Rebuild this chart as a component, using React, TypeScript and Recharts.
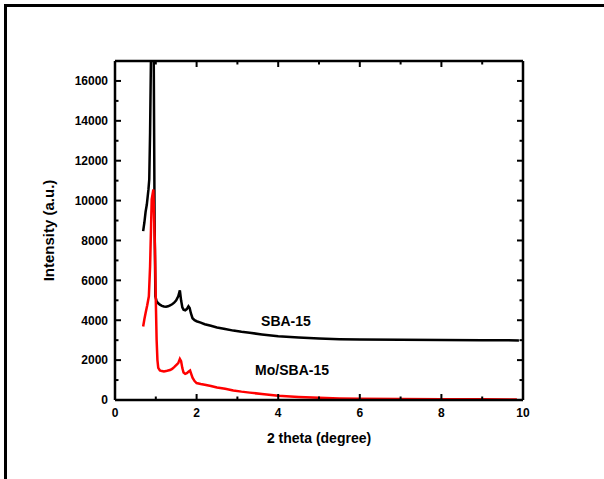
import React from 'react';
import { LineChart, Line, XAxis, YAxis, ReferenceDot } from 'recharts';

// SBA-15 (black)
const sbaX = [0.69, 0.72, 0.75, 0.78, 0.82, 0.84, 0.86, 0.88, 0.91, 0.93, 0.95, 0.97, 0.99, 1.02, 1.06, 1.1, 1.15, 1.2, 1.25, 1.3, 1.35, 1.4, 1.45, 1.5, 1.55, 1.59, 1.62, 1.65, 1.68, 1.72, 1.76, 1.8, 1.83, 1.86, 1.9, 1.95, 2.0, 2.1, 2.2, 2.35, 2.5, 2.7, 2.9, 3.1, 3.3, 3.6, 4.0, 4.5, 5.0, 5.5, 6.0, 7.0, 8.0, 9.0, 9.9];
const sbaY = [8470, 8900, 9440, 9800, 10560, 11070, 13430, 16950, 21000, 23500, 17000, 9000, 5200, 4950, 4850, 4780, 4720, 4690, 4680, 4700, 4750, 4800, 4880, 5000, 5200, 5500, 5000, 4650, 4530, 4500, 4560, 4700, 4610, 4350, 4100, 4000, 3950, 3880, 3800, 3720, 3640, 3560, 3480, 3420, 3370, 3290, 3200, 3130, 3080, 3050, 3030, 3020, 3010, 3000, 2990];

// Mo/SBA-15 (red)
const moX = [0.69, 0.72, 0.75, 0.79, 0.83, 0.86, 0.9, 0.94, 0.96, 0.98, 1.0, 1.02, 1.04, 1.06, 1.1, 1.15, 1.2, 1.25, 1.3, 1.35, 1.4, 1.45, 1.5, 1.55, 1.59, 1.62, 1.65, 1.68, 1.72, 1.76, 1.8, 1.84, 1.87, 1.9, 1.95, 2.0, 2.1, 2.2, 2.35, 2.5, 2.7, 2.9, 3.1, 3.3, 3.6, 4.0, 4.5, 5.0, 5.5, 6.0, 7.0, 8.0, 9.0, 9.85];
const moY = [3690, 4050, 4360, 4750, 5200, 6700, 10060, 10560, 9000, 7550, 5000, 3020, 2000, 1610, 1480, 1450, 1430, 1450, 1480, 1500, 1560, 1650, 1750, 1850, 2060, 1950, 1600, 1380, 1310, 1350, 1420, 1480, 1300, 1120, 950, 850, 800, 760, 700, 630, 560, 480, 420, 370, 300, 210, 150, 110, 80, 60, 45, 38, 33, 30];

const xTicks = [0, 1, 2, 3, 4, 5, 6, 7, 8, 9, 10];
const yTicks = [0, 1000, 2000, 3000, 4000, 5000, 6000, 7000, 8000, 9000, 10000, 11000, 12000, 13000, 14000, 15000, 16000];
const xDomain = [0, 10];
const yDomain = [0, 17000];

const seriesNames = ['SBA-15', 'Mo/SBA-15'];
const labelPos = [
  { x: 4.19, y: 3974 },
  { x: 4.34, y: 1509 },
];

const sbaData = sbaX.map((x, i) => ({ x, y: sbaY[i] }));
const moData = moX.map((x, i) => ({ x, y: moY[i] }));

const FONT = '"Liberation Sans", Arial, sans-serif';
const MAJOR = 6;
const MINOR = 3.5;
const Y_MARGIN = 7;
const X_MARGIN = 8;

const LeftTick = (props: any) => {
  const x = Number(props.x);
  const y = Number(props.y);
  const v = Number(props.payload?.value);
  const major = v % 2000 === 0;
  const ax = x + Y_MARGIN;
  return (
    <g>
      <path d={`M${ax},${y}H${ax + (major ? MAJOR : MINOR)}`} stroke="#000" strokeWidth={2} fill="none" />
      {major && (
        <text x={x} y={y} dy="0.36em" textAnchor="end" fontFamily={FONT} fontWeight="bold" fontSize={12} fill="#000">
          {v}
        </text>
      )}
    </g>
  );
};

const RightTick = (props: any) => {
  const x = Number(props.x);
  const y = Number(props.y);
  const v = Number(props.payload?.value);
  const major = v % 2000 === 0;
  return <path d={`M${x},${y}H${x - (major ? MAJOR : MINOR)}`} stroke="#000" strokeWidth={2} fill="none" />;
};

const BottomTick = (props: any) => {
  const x = Number(props.x);
  const y = Number(props.y);
  const v = Number(props.payload?.value);
  const major = v % 2 === 0;
  const ay = y - X_MARGIN;
  return (
    <g>
      <path d={`M${x},${ay}V${ay - (major ? MAJOR : MINOR)}`} stroke="#000" strokeWidth={2} fill="none" />
      {major && (
        <text x={x} y={y} dy="0.75em" textAnchor="middle" fontFamily={FONT} fontWeight="bold" fontSize={12} fill="#000">
          {v}
        </text>
      )}
    </g>
  );
};

const TopTick = (props: any) => {
  const x = Number(props.x);
  const y = Number(props.y);
  const v = Number(props.payload?.value);
  const major = v % 2 === 0;
  return <path d={`M${x},${y}V${y + (major ? MAJOR : MINOR)}`} stroke="#000" strokeWidth={2} fill="none" />;
};

const axisLine = { stroke: '#000', strokeWidth: 2.5 };

export default function App() {
  return (
    <div style={{ position: 'absolute', left: 0, top: 0, width: 604, height: 479, background: '#fff', overflow: 'hidden' }}>
      <div
        style={{
          position: 'absolute',
          left: 4,
          top: 4,
          width: 620,
          height: 500,
          borderTop: '3px solid #000',
          borderLeft: '3px solid #000',
          boxSizing: 'border-box',
        }}
      />
      <div style={{ position: 'absolute', left: 0, top: 0 }}>
        <LineChart width={604} height={479} margin={{ top: 60, right: 80, bottom: 0, left: 0 }}>
          <XAxis
            dataKey="x"
            type="number"
            domain={xDomain}
            ticks={xTicks}
            interval={0}
            allowDataOverflow
            height={79}
            tickSize={0}
            tickMargin={X_MARGIN}
            axisLine={axisLine}
            tick={BottomTick}
            label={{
              value: '2 theta (degree)',
              position: 'insideBottom',
              offset: 36,
              style: { fontFamily: FONT, fontWeight: 'bold', fontSize: 14, fill: '#000' },
            }}
          />
          <XAxis
            xAxisId="top"
            orientation="top"
            dataKey="x"
            type="number"
            domain={xDomain}
            ticks={xTicks}
            interval={0}
            allowDataOverflow
            height={1}
            tickSize={0}
            tickMargin={0}
            axisLine={axisLine}
            tick={TopTick}
          />
          <YAxis
            type="number"
            domain={yDomain}
            ticks={yTicks}
            interval={0}
            allowDataOverflow
            width={115}
            tickSize={0}
            tickMargin={Y_MARGIN}
            axisLine={axisLine}
            tick={LeftTick}
            label={{
              value: 'Intensity (a.u.)',
              angle: -90,
              position: 'insideLeft',
              offset: 49,
              style: { fontFamily: FONT, fontWeight: 'bold', fontSize: 15, fill: '#000', textAnchor: 'middle' },
            }}
          />
          <YAxis
            yAxisId="right"
            orientation="right"
            type="number"
            domain={yDomain}
            ticks={yTicks}
            interval={0}
            allowDataOverflow
            width={1}
            tickSize={0}
            tickMargin={0}
            axisLine={axisLine}
            tick={RightTick}
          />
          <Line
            data={sbaData}
            xAxisId="top"
            yAxisId="right"
            dataKey="y"
            type="linear"
            stroke="none"
            strokeWidth={0}
            dot={false}
            legendType="none"
            isAnimationActive={false}
          />
          <Line
            data={sbaData}
            dataKey="y"
            name={seriesNames[0]}
            type="linear"
            stroke="#000"
            strokeWidth={2.5}
            dot={false}
            isAnimationActive={false}
          />
          <Line
            data={moData}
            dataKey="y"
            name={seriesNames[1]}
            type="linear"
            stroke="#ff0000"
            strokeWidth={2.5}
            dot={false}
            isAnimationActive={false}
          />
          {labelPos.map((p, i) => (
            <ReferenceDot
              key={seriesNames[i]}
              x={p.x}
              y={p.y}
              r={0}
              fill="none"
              stroke="none"
              label={{
                value: seriesNames[i],
                position: 'center',
                style: { fontFamily: FONT, fontWeight: 'bold', fontSize: 14, fill: '#000' },
              }}
            />
          ))}
        </LineChart>
      </div>
    </div>
  );
}
